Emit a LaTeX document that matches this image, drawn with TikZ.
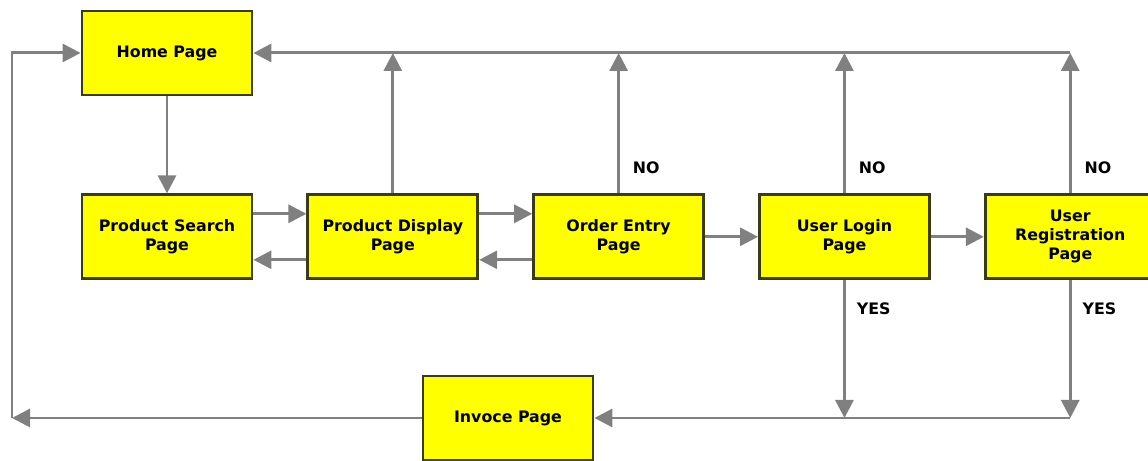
\documentclass[tikz,border=0pt]{standalone}
\usepackage{fontspec}
\setmainfont{DejaVu Sans}
\usepackage{xcolor}
\usetikzlibrary{arrows.meta, positioning, calc}

\definecolor{pageyellow}{RGB}{255,255,0}
\definecolor{pageborder}{RGB}{60,60,20}
\definecolor{flowgray}{RGB}{128,128,128}

\begin{document}
\begin{tikzpicture}[
    node distance=1.06cm and 1.06cm,
    pagebox/.style={draw=pageborder, line width=1.6pt, fill=pageyellow, minimum width=3.4cm, minimum height=1.68cm, align=center, inner sep=1pt, font=\fontsize{9}{10.8}\selectfont\bfseries},
    answer/.style={anchor=west, inner sep=0pt, font=\fontsize{9}{10.8}\selectfont\bfseries},
    arrow/.style={-{Triangle[length=3.6mm, width=3.6mm]}, line width=1.7pt, color=flowgray}
]

\useasboundingbox (0,0) rectangle (22.96,9.22);

\node[pagebox] (home) at (3.34,8.16) {Home Page};

\node[pagebox, below=1.94cm of home] (search) {Product Search\\Page};
\node[pagebox, right=of search] (display) {Product Display\\Page};
\node[pagebox, right=of display] (order) {Order Entry\\Page};
\node[pagebox, right=of order] (login) {User Login\\Page};
\node[pagebox, right=of login] (reg) {User\\Registration\\Page};

\node[pagebox] (invoice) at (10.16,0.86) {Invoce Page};

\coordinate (leftside) at (0.24,0);

% forward / back between the pages
\draw[arrow] (home) -- (search);
\draw[arrow] ([yshift=0.46cm]search.east) -- ([yshift=0.46cm]display.west);
\draw[arrow] ([yshift=-0.46cm]display.west) -- ([yshift=-0.46cm]search.east);
\draw[arrow] ([yshift=0.46cm]display.east) -- ([yshift=0.46cm]order.west);
\draw[arrow] ([yshift=-0.46cm]order.west) -- ([yshift=-0.46cm]display.east);
\draw[arrow] (order) -- (login);
\draw[arrow] (login) -- (reg);

% back to home page
\draw[arrow] (display.north) -- (display.north |- home.east);
\draw[arrow] (order.north) -- (order.north |- home.east);
\draw[arrow] (login.north) -- (login.north |- home.east);
\draw[arrow] (reg.north) -- (reg.north |- home.east);
\draw[arrow] (reg.north |- home.east) -- (home.east);

\node[answer] at ([xshift=0.28cm, yshift=0.52cm]order.north) {NO};
\node[answer] at ([xshift=0.28cm, yshift=0.52cm]login.north) {NO};
\node[answer] at ([xshift=0.28cm, yshift=0.52cm]reg.north) {NO};

% on to the invoice
\draw[arrow] (login.south) -- (login.south |- invoice.east);
\draw[arrow] (reg.south) -- (reg.south |- invoice.east);
\draw[arrow] (reg.south |- invoice.east) -- (invoice.east);

\node[answer] at ([xshift=0.24cm, yshift=-0.58cm]login.south) {YES};
\node[answer] at ([xshift=0.24cm, yshift=-0.58cm]reg.south) {YES};

\draw[arrow] (invoice.west) -- (invoice.west -| leftside);
\draw[arrow] (invoice.west -| leftside) |- (home.west);

\end{tikzpicture}
\end{document}
